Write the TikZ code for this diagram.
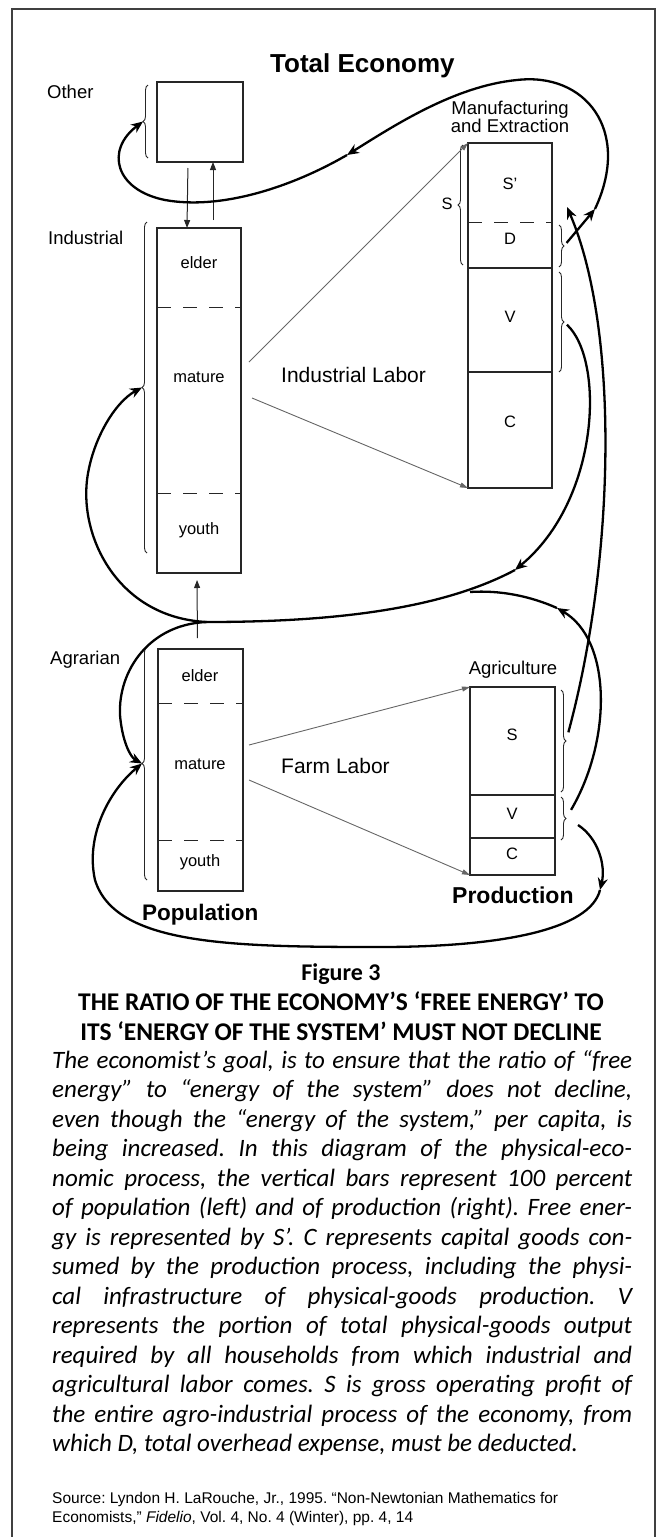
\documentclass[tikz,border=0pt]{standalone}
\usepackage{fontspec}
\setmainfont{Liberation Sans}
\newfontfamily\capfont{Carlito}
\usetikzlibrary{arrows.meta}
\usetikzlibrary{decorations.pathreplacing}
\newcommand{\lblsize}{\fontsize{18.5}{17}\selectfont}
\newcommand{\segsize}{\fontsize{16.5}{18}\selectfont}
\newcommand{\capline}[3]{\node[capbody] (#1) at (52,#2) {\makebox[580pt][s]{#3}};}
\frenchspacing
\tikzstyle{bar}=[draw=black!85, line width=1.2pt, inner sep=0, outer sep=0, anchor=north west]
\tikzstyle{seg}=[font=\segsize, inner sep=0, anchor=mid]
\tikzstyle{segsym}=[font=\fontsize{16.5}{18}\selectfont, inner sep=0, anchor=mid]
\tikzstyle{divider}=[draw=black!85, line width=1pt, dash pattern=on 14pt off 12pt]
\tikzstyle{rule}=[draw=black!85, line width=1.2pt]
\tikzstyle{brc}=[draw=black!85, line width=0.9pt, decorate, decoration={brace, amplitude=5pt}]
\tikzstyle{flow}=[draw=black, line width=2.3pt, -{Stealth[length=12pt, width=10pt]}]
\tikzstyle{trunk}=[draw=black, line width=2.3pt]
\tikzstyle{feed}=[draw=black!85, line width=1pt, -{Triangle[length=8pt, width=6pt]}]
\tikzstyle{labor}=[draw=black!60, line width=0.9pt, -{Triangle[length=8pt, width=5pt]}]
\tikzstyle{lbl}=[font=\lblsize, inner sep=0, anchor=base west]
\tikzstyle{heavy}=[font=\bfseries, inner sep=0, anchor=base west]
\tikzstyle{captitle}=[font=\capfont\bfseries\fontsize{25.5}{30}\selectfont, inner sep=0, anchor=base]
\tikzstyle{capbody}=[font=\capfont\itshape\fontsize{25}{29.5}\selectfont, inner sep=0, anchor=base west]
\tikzstyle{source}=[font=\fontsize{15.5}{19}\selectfont, inner sep=0, anchor=base west]

\begin{document}
\begin{tikzpicture}[x=1pt, y=-1pt]
    \useasboundingbox (0,0) rectangle (659,1537);
    \draw[line width=1.3pt, black!75] (12,1537) -- (12,9) -- (655,9) -- (655,1537);

    \node[heavy, font=\fontsize{26}{28}\selectfont\bfseries] (title) at (270,72) {Total Economy};

    % population side
    \node[bar, minimum width=86pt, minimum height=80pt] (other) at (157,82) {};
    \node[bar, minimum width=84pt, minimum height=345pt] (indpop) at (157,228) {};
    \node[bar, minimum width=85pt, minimum height=242pt] (agrpop) at (158,649) {};
    \draw[divider] (157,307) -- (241,307);
    \draw[divider] (157,493) -- (241,493);
    \draw[divider] (158,703) -- (243,703);
    \draw[divider] (158,840) -- (243,840);
    \node[seg] (ielder) at (199,266) {elder};
    \node[seg] (imature) at (199,380) {mature};
    \node[seg] (iyouth) at (199,532) {youth};
    \node[seg] (aelder) at (200,679) {elder};
    \node[seg] (amature) at (200,767) {mature};
    \node[seg] (ayouth) at (200,864) {youth};
    \node[lbl] (lother) at (47,98) {Other};
    \node[lbl] (lind) at (48,244) {Industrial};
    \node[lbl] (lagr) at (50,664) {Agrarian};
    \node[heavy, font=\fontsize{22.5}{24}\selectfont\bfseries] (lpop) at (142,920) {Population};
    \draw[brc] (148,158) -- (148,85);
    \draw[brc] (147,553) -- (147,222);
    \draw[brc] (147,880) -- (147,647);
    \coordinate (otip) at (143,121.5);
    \coordinate (itip) at (142,387.5);
    \coordinate (atip) at (142,763.5);

    % production side
    \node[bar, minimum width=84pt, minimum height=345pt] (mfg) at (468,143) {};
    \draw[divider] (468,222) -- (552,222);
    \draw[rule] (468,268) -- (552,268);
    \draw[rule] (468,372) -- (552,372);
    \node[bar, minimum width=85pt, minimum height=188pt] (agri) at (470,687) {};
    \draw[rule] (470,795) -- (555,795);
    \draw[rule] (470,838) -- (555,838);
    \node[segsym] (sprime) at (510,187) {S’};
    \node[segsym] (dval) at (510,242) {D};
    \node[segsym] (vval) at (510,320) {V};
    \node[segsym] (cval) at (510,425) {C};
    \node[segsym] (ssum) at (447,207) {S};
    \node[segsym] (asval) at (512,738) {S};
    \node[segsym] (avval) at (512,817) {V};
    \node[segsym] (acval) at (512,857) {C};
    \node[font=\lblsize, align=center, inner sep=0, anchor=south] (lmfg) at (510,133) {Manufacturing\\and Extraction};
    \node[lbl, anchor=base] (lagri) at (513,674) {Agriculture};
    \node[heavy, font=\fontsize{23}{24}\selectfont\bfseries] (lprod) at (452,903) {Production};
    \draw[brc] (463,265) -- (463,145);
    \draw[brc] (559,225) -- (559,267);
    \draw[brc] (559,272) -- (559,372);
    \draw[brc] (561,690) -- (561,792);
    \draw[brc] (561,797) -- (561,840);
    \coordinate (dtip) at (564,246);
    \coordinate (vtip) at (564,322);
    \coordinate (astip) at (566,741);
    \coordinate (avtip) at (566,818.5);

    % labor
    \node[font=\fontsize{21}{22}\selectfont, inner sep=0, anchor=base west] (lil) at (281,382) {Industrial Labor};
    \node[font=\fontsize{21}{22}\selectfont, inner sep=0, anchor=base west] (lfl) at (281,773) {Farm Labor};
    \coordinate (il1) at (249,362);
    \coordinate (il2) at (252,398);
    \coordinate (fl1) at (249,745);
    \coordinate (fl2) at (249,780);
    \draw[labor] (il1) -- (mfg.north west);
    \draw[labor] (il2) -- (mfg.south west);
    \draw[labor] (fl1) -- (agri.north west);
    \draw[labor] (fl2) -- (agri.south west);

    \draw[feed, shorten <=6pt] ([xshift=-12pt]other.south) -- ([xshift=-12pt]indpop.north);
    \draw[feed, shorten <=8pt] ([xshift=14pt]indpop.north) -- ([xshift=13pt]other.south);
    \draw[feed, shorten <=11pt, shorten >=7pt] ([xshift=-3pt]agrpop.north) -- ([xshift=-2pt]indpop.south);

    % flows
    \coordinate (jd) at (595,209);
    \coordinate (jl) at (347,155);
    \coordinate (js) at (567,207);
    \coordinate (jv) at (515,570);
    \coordinate (ja) at (557,608);
    \coordinate (jm) at (470,592);
    \coordinate (jn) at (207,622);
    \coordinate (jb) at (600,890);
    \draw[flow, shorten <=4pt] (dtip) -- (jd);
    \draw[flow] (jd) .. controls (632,130) and (585,72) .. (517,80) .. controls (455,86) and (395,125) .. (jl);
    \draw[flow] (jl) .. controls (290,188) and (220,210) .. (165,200) .. controls (115,190) and (105,150) .. (otip);
    \draw[flow, shorten <=9pt] (astip) .. controls (615,560) and (620,330) .. (js);
    \draw[flow, shorten <=4pt] (vtip) .. controls (605,360) and (600,500) .. (jv);
    \draw[trunk] (jv) .. controls (440,610) and (330,622) .. (jn);
    \draw[flow] (jn) .. controls (120,618) and (80,540) .. (87,480) .. controls (92,440) and (115,402) .. (itip);
    \draw[flow, shorten <=10pt] (avtip) .. controls (612,740) and (612,640) .. (ja);
    \draw[trunk] (ja) .. controls (530,596) and (500,590) .. (jm);
    \draw[flow] (jn) .. controls (150,624) and (118,670) .. (120,715) .. controls (122,740) and (130,757) .. (atip);
    \draw[flow] ([xshift=12pt, yshift=-6.5pt]avtip) .. controls (598,838) and (606,865) .. (jb);
    \draw[flow] (jb) .. controls (590,930) and (500,947) .. (380,947) .. controls (230,947) and (115,945) .. (95,880) .. controls (85,835) and (110,790) .. (atip);

    % caption
    \node[captitle, font=\capfont\bfseries\fontsize{24}{26}\selectfont] (fig) at (341,980) {Figure 3};
    \node[captitle] (head1) at (341,1010) {THE RATIO OF THE ECONOMY’S ‘FREE ENERGY’ TO};
    \node[captitle] (head2) at (341,1040) {ITS ‘ENERGY OF THE SYSTEM’ MUST NOT DECLINE};
    \capline{c1}{1068}{The economist’s goal, is to ensure that the ratio of “free}
    \capline{c2}{1097.5}{energy” to “energy of the system” does not decline,}
    \capline{c3}{1127}{even though the “energy of the system,” per capita, is}
    \capline{c4}{1156.5}{being increased. In this diagram of the physical-eco-}
    \capline{c5}{1186}{nomic process, the vertical bars represent 100 percent}
    \capline{c6}{1215.5}{of population (left) and of production (right). Free ener-}
    \capline{c7}{1245}{gy is represented by S’. C represents capital goods con-}
    \capline{c8}{1274.5}{sumed by the production process, including the physi-}
    \capline{c9}{1304}{cal infrastructure of physical-goods production. V}
    \capline{c10}{1333.5}{represents the portion of total physical-goods output}
    \capline{c11}{1363}{required by all households from which industrial and}
    \capline{c12}{1392.5}{agricultural labor comes. S is gross operating profit of}
    \capline{c13}{1422}{the entire agro-industrial process of the economy, from}
    \node[capbody] (c14) at (52,1451.5) {which D, total overhead expense, must be deducted.};
    \node[source] (src1) at (52,1503) {Source: Lyndon H. LaRouche, Jr., 1995. “Non-Newtonian Mathematics for};
    \node[source] (src2) at (52,1522) {Economists,” \textit{Fidelio}, Vol. 4, No. 4 (Winter), pp. 4, 14};
\end{tikzpicture}
\end{document}
